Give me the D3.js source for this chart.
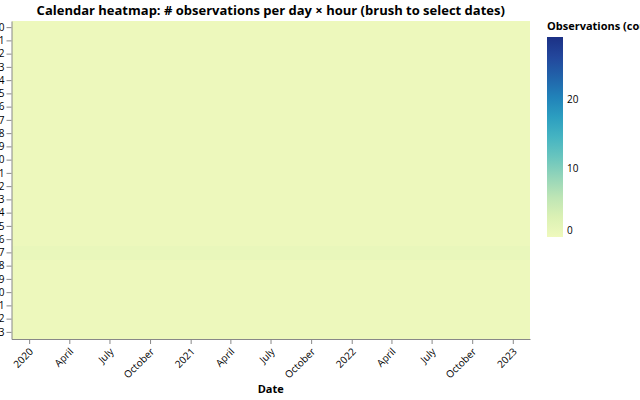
<!DOCTYPE html>
<html>
<head>
<meta charset="utf-8">
<script src="https://cdn.jsdelivr.net/npm/d3@7"></script>
<style>
  html, body { margin: 0; padding: 0; background: #fff; overflow: hidden; }
  svg { display: block; font-family: "Open Sans", "Noto Sans", sans-serif; }
</style>
</head>
<body>
<svg id="chart" width="640" height="400"></svg>
<script>
// ---- data ----
const hours = [0,1,2,3,4,5,6,7,8,9,10,11,12,13,14,15,16,17,18,19,20,21,22,23];
// apparent mean observations per day in each hour row
const hourCounts = [0.3,0.3,0.3,0.3,0.3,0.3,0.3,0.3,0.3,0.3,0.3,0.3,
                    0.3,0.3,0.3,0.3,0.3,0.8,0.3,0.3,0.3,0.3,0.3,0.3];
const dateStart = "2019-11-22";
const dateEnd = "2023-02-09";
const colorMax = 29;
const tickDates = ["2020-01-01","2020-04-01","2020-07-01","2020-10-01",
                   "2021-01-01","2021-04-01","2021-07-01","2021-10-01",
                   "2022-01-01","2022-04-01","2022-07-01","2022-10-01","2023-01-01"];
const tickLabels = ["2020","April","July","October","2021","April","July","October",
                    "2022","April","July","October","2023"];
const legendTicks = [0, 10, 20];
const schemeColors = ["#eff9bd","#dbf1b4","#bde5b5","#94d5b9","#69c5be","#45b4c2",
                      "#2c9ec0","#2182b9","#2163aa","#23479c","#1c3185"];

// ---- layout ----
const parse = d3.utcParse("%Y-%m-%d");
const mLeft = 11.5, mRight = 530, mTop = 21, mBottom = 339;
const svg = d3.select("#chart");

const x = d3.scaleUtc().domain([parse(dateStart), parse(dateEnd)]).range([mLeft, mRight]);
const y = d3.scaleBand().domain(hours).range([mTop, mBottom]).padding(0);
const interp = d3.piecewise(d3.interpolateRgb, schemeColors);
const color = d3.scaleSequential(interp).domain([0, colorMax]);

const rows = hours.map((h, i) => ({ hour: h, count: hourCounts[i], start: parse(dateStart), end: parse(dateEnd) }));

svg.append("g").attr("shape-rendering", "crispEdges")
  .selectAll("rect").data(rows).join("rect")
  .attr("x", d => x(d.start))
  .attr("width", d => x(d.end) - x(d.start))
  .attr("y", d => y(d.hour))
  .attr("height", y.bandwidth() + 0.5)
  .attr("fill", d => color(d.count));

// y axis
const yAxis = svg.append("g").attr("transform", `translate(${mLeft},0)`)
  .call(d3.axisLeft(y).tickSize(5).tickPadding(2).tickSizeOuter(0));
yAxis.select(".domain").attr("stroke", "#888");
yAxis.selectAll(".tick line").attr("stroke", "#888");
yAxis.selectAll(".tick text").attr("font-size", 10).attr("fill", "#000")
  .attr("font-family", "Open Sans, sans-serif");

// x axis
const tickDateObjs = tickDates.map(parse);
const xAxis = svg.append("g").attr("transform", `translate(0,${mBottom})`)
  .call(d3.axisBottom(x).tickValues(tickDateObjs).tickSize(5)
        .tickFormat((d, i) => tickLabels[i]).tickSizeOuter(0));
xAxis.select(".domain").attr("stroke", "#888");
xAxis.selectAll(".tick line").attr("stroke", "#888");
xAxis.selectAll(".tick text")
  .attr("font-size", 10).attr("fill", "#000")
  .attr("font-family", "Open Sans, sans-serif")
  .attr("text-anchor", "end")
  .attr("y", 0).attr("dy", "0.32em")
  .attr("transform", "translate(2,11) rotate(-45)");

// titles
svg.append("text").attr("x", (mLeft + mRight) / 2).attr("y", 15)
  .attr("text-anchor", "middle").attr("font-size", 13).attr("font-weight", "bold")
  .text("Calendar heatmap: # observations per day × hour (brush to select dates)");
svg.append("text").attr("x", (mLeft + mRight) / 2).attr("y", 393)
  .attr("text-anchor", "middle").attr("font-size", 11).attr("font-weight", "bold")
  .text("Date");

// legend
const lgX = 547, lgTop = 37, lgH = 200, lgW = 16;
svg.append("text").attr("x", lgX).attr("y", 30).attr("font-size", 11).attr("font-weight", "bold")
  .text("Observations (count)");
const defs = svg.append("defs");
const grad = defs.append("linearGradient").attr("id", "lg").attr("x1", 0).attr("x2", 0).attr("y1", 1).attr("y2", 0);
schemeColors.forEach((c, i) => grad.append("stop").attr("offset", i / (schemeColors.length - 1)).attr("stop-color", c));
svg.append("rect").attr("x", lgX).attr("y", lgTop).attr("width", lgW).attr("height", lgH).attr("fill", "url(#lg)");
const ly = d3.scaleLinear().domain([0, colorMax]).range([lgTop + lgH, lgTop]);
svg.append("g").selectAll("text").data(legendTicks).join("text")
  .attr("x", lgX + lgW + 4)
  .attr("y", d => d === 0 ? ly(d) - 3 : ly(d))
  .attr("dy", d => d === 0 ? "0" : "0.35em")
  .attr("font-size", 10).attr("fill", "#000")
  .text(d => d);
</script>
</body>
</html>
